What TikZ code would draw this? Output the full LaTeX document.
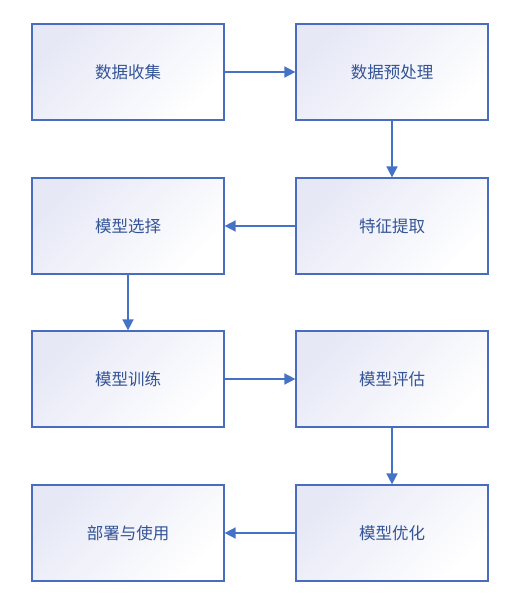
\documentclass[tikz,border=0pt]{standalone}
\usepackage{fontspec}
\newfontfamily\cjk{Noto Sans CJK SC}
\usetikzlibrary{arrows.meta}
\definecolor{boxline}{RGB}{72,108,190}
\definecolor{arrowc}{RGB}{68,114,196}
\definecolor{txt}{RGB}{52,84,150}
\definecolor{shadec}{RGB}{230,232,246}
\begin{document}
\begin{tikzpicture}[x=1pt,y=-1pt,
  stepbox/.style={draw=boxline, line width=1.2pt, minimum width=192pt, minimum height=96pt,
    inner sep=0pt, top color=shadec, bottom color=white, shading angle=45,
    font=\cjk\fontsize{16.5}{20}\selectfont, text=txt},
  conn/.style={draw=arrowc, line width=1.6pt, -{Triangle[length=11pt,width=11pt]}}]
\useasboundingbox (0,0) rectangle (521,613);
\node[stepbox] (a) at (128,72) {数据收集};
\node[stepbox] (b) at (392,72) {数据预处理};
\node[stepbox] (c) at (392,226) {特征提取};
\node[stepbox] (d) at (128,226) {模型选择};
\node[stepbox] (e) at (128,379) {模型训练};
\node[stepbox] (f) at (392,379) {模型评估};
\node[stepbox] (g) at (392,533) {模型优化};
\node[stepbox] (h) at (128,533) {部署与使用};
\draw[conn] (a) -- (b);
\draw[conn] (b) -- (c);
\draw[conn] (c) -- (d);
\draw[conn] (d) -- (e);
\draw[conn] (e) -- (f);
\draw[conn] (f) -- (g);
\draw[conn] (g) -- (h);
\end{tikzpicture}
\end{document}
